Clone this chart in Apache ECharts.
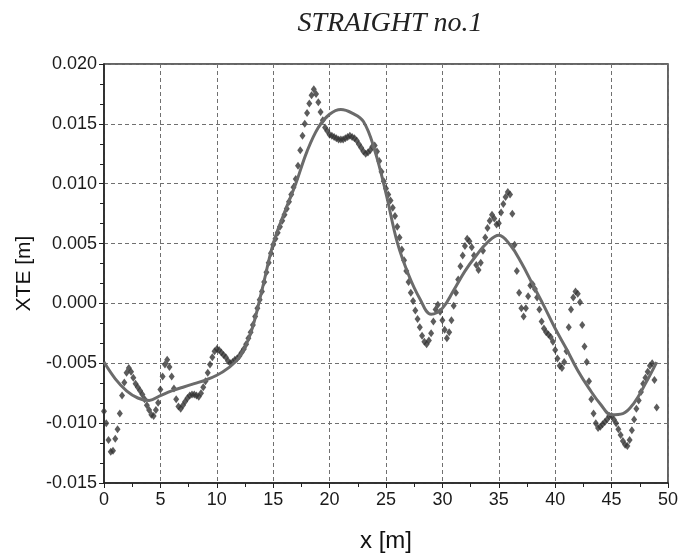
<!DOCTYPE html>
<html>
<head>
<meta charset="utf-8">
<script src="https://cdn.jsdelivr.net/npm/echarts@6/dist/echarts.min.js"></script>
<style>
html,body{margin:0;padding:0;background:#fff;overflow:hidden;width:681px;height:558px;}
#chart{width:681px;height:558px;position:absolute;left:0;top:0;}
</style>
</head>
<body>
<div id="chart"></div>
<script>
// ---- data ----
const chartTitle = 'STRAIGHT no.1';
const xName = 'x [m]';
const yName = 'XTE [m]';
const xTicks = [0, 5, 10, 15, 20, 25, 30, 35, 40, 45, 50];
const yTicks = [-0.015, -0.010, -0.005, 0.000, 0.005, 0.010, 0.015, 0.020];

// measured XTE (diamond markers), sampled every 0.2 m starting at x = 0
const measuredStart = 0;
const measuredStep = 0.2;
const measuredXTE = [
  -0.0090,-0.0100,-0.0114,-0.0124,-0.0123,-0.0113,-0.0105,-0.0092,-0.0077,-0.0066,
  -0.0058,-0.0054,-0.0057,-0.0062,-0.0067,-0.0070,-0.0073,-0.0076,-0.0080,-0.0085,
  -0.0089,-0.0093,-0.0094,-0.0089,-0.0083,-0.0072,-0.0061,-0.0051,-0.0047,-0.0053,
  -0.0061,-0.0071,-0.0080,-0.0086,-0.0088,-0.0085,-0.0082,-0.0079,-0.0077,-0.0076,
  -0.0076,-0.0077,-0.0078,-0.0075,-0.0070,-0.0065,-0.0058,-0.0051,-0.0045,-0.0040,
  -0.0038,-0.0039,-0.0041,-0.0043,-0.0045,-0.0048,-0.0050,-0.0049,-0.0047,-0.0046,
  -0.0044,-0.0041,-0.0038,-0.0034,-0.0029,-0.0024,-0.0018,-0.0011,-0.0004,0.0003,
  0.0010,0.0018,0.0026,0.0034,0.0042,0.0049,0.0054,0.0059,0.0064,0.0069,
  0.0074,0.0079,0.0085,0.0091,0.0097,0.0104,0.0115,0.0128,0.0140,0.0150,
  0.0159,0.0167,0.0174,0.0179,0.0175,0.0168,0.0160,0.0153,0.0147,0.0144,
  0.0141,0.0140,0.0139,0.0138,0.0137,0.0137,0.0137,0.0138,0.0139,0.0140,
  0.0139,0.0138,0.0136,0.0133,0.0130,0.0127,0.0125,0.0126,0.0128,0.0131,
  0.0132,0.0127,0.0119,0.0110,0.0102,0.0096,0.0091,0.0086,0.0080,0.0073,
  0.0064,0.0055,0.0045,0.0036,0.0027,0.0018,0.0009,0.0002,-0.0006,-0.0013,
  -0.0020,-0.0027,-0.0032,-0.0034,-0.0031,-0.0025,-0.0015,-0.0005,-0.0001,-0.0007,
  -0.0014,-0.0022,-0.0029,-0.0024,-0.0014,-0.0002,0.0009,0.0020,0.0031,0.0040,
  0.0048,0.0054,0.0052,0.0047,0.0040,0.0032,0.0028,0.0034,0.0044,0.0055,
  0.0063,0.0069,0.0074,0.0071,0.0066,0.0067,0.0076,0.0083,0.0089,0.0093,
  0.0091,0.0075,0.0049,0.0027,0.0009,-0.0004,-0.0011,-0.0004,0.0006,0.0015,
  0.0016,0.0012,0.0005,-0.0005,-0.0015,-0.0021,-0.0024,-0.0026,-0.0028,-0.0032,
  -0.0039,-0.0046,-0.0052,-0.0054,-0.0049,-0.0040,-0.0020,-0.0005,0.0005,0.0010,
  0.0008,0.0001,-0.0018,-0.0036,-0.0049,-0.0065,-0.0080,-0.0092,-0.0100,-0.0104,
  -0.0103,-0.0101,-0.0099,-0.0097,-0.0094,-0.0094,-0.0097,-0.0100,-0.0105,-0.0110,
  -0.0115,-0.0118,-0.0119,-0.0114,-0.0106,-0.0097,-0.0088,-0.0081,-0.0074,-0.0067,
  -0.0062,-0.0057,-0.0052,-0.0050,-0.0064,-0.0087
];

// smooth (fitted) XTE, one value per metre starting at x = 0
const fittedStart = 0;
const fittedStep = 1;
const fittedXTE = [
  -0.0049,-0.0063,-0.0073,-0.0079,-0.0081,-0.0077,-0.0073,-0.0070,-0.0067,-0.0064,
  -0.0060,-0.0054,-0.0045,-0.0025,0.0011,0.0050,0.0076,0.0100,0.0127,0.0147,
  0.0158,0.0162,0.0159,0.0152,0.0128,0.0092,0.0051,0.0024,0.0004,-0.0009,
  -0.0004,0.0011,0.0027,0.0040,0.0051,0.0057,0.0049,0.0034,0.0016,-0.0002,
  -0.0021,-0.0038,-0.0056,-0.0071,-0.0084,-0.0093,-0.0092,-0.0083,-0.0067,-0.0049
];

// ---- build chart ----
const measuredPts = measuredXTE.map((v, i) => [measuredStart + i * measuredStep, v]);
const fittedPts = fittedXTE.map((v, i) => [fittedStart + i * fittedStep, v]);

const sans = "'Liberation Sans', Arial, sans-serif";
const gridDash = { type: [4, 3], color: '#707070', width: 1 };

const chart = echarts.init(document.getElementById('chart'), null, { renderer: 'canvas', width: 681, height: 558 });
chart.setOption({
  animation: false,
  backgroundColor: '#ffffff',
  title: {
    text: chartTitle,
    left: 385,
    top: 5,
    textAlign: 'center',
    textStyle: {
      fontFamily: "'Liberation Serif', 'Times New Roman', serif",
      fontStyle: 'italic',
      fontWeight: 'normal',
      fontSize: 28,
      color: '#222'
    }
  },
  grid: {
    left: 104, right: 8, top: 64, bottom: 68,
    show: true, borderColor: '#333', borderWidth: 1.5, backgroundColor: 'transparent'
  },
  xAxis: {
    type: 'value',
    min: xTicks[0], max: xTicks[xTicks.length - 1], interval: xTicks[1] - xTicks[0],
    name: xName, nameLocation: 'middle', nameGap: 46,
    nameTextStyle: { fontFamily: sans, fontSize: 24, color: '#111' },
    axisLine: { show: true, onZero: false, lineStyle: { color: '#222', width: 1.5 } },
    axisTick: { show: true, length: 5, lineStyle: { color: '#222', width: 1 } },
    minorTick: { show: true, splitNumber: 2, length: 4, lineStyle: { color: '#222', width: 1 } },
    splitLine: { show: true, lineStyle: gridDash },
    axisLabel: { fontFamily: sans, fontSize: 18, color: '#1a1a1a', margin: 8 }
  },
  yAxis: {
    type: 'value',
    min: yTicks[0], max: yTicks[yTicks.length - 1], interval: 0.005,
    name: yName, nameLocation: 'middle', nameGap: 66, nameRotate: 90,
    nameTextStyle: { fontFamily: sans, fontSize: 21, color: '#111' },
    axisLine: { show: true, onZero: false, lineStyle: { color: '#222', width: 1.5 } },
    axisTick: { show: true, length: 5, lineStyle: { color: '#222', width: 1 } },
    minorTick: { show: true, splitNumber: 3, length: 4, lineStyle: { color: '#222', width: 1 } },
    splitLine: { show: true, lineStyle: gridDash },
    axisLabel: {
      fontFamily: sans, fontSize: 18, color: '#1a1a1a', margin: 7,
      formatter: v => (Math.abs(v) < 1e-9 ? 0 : v).toFixed(3)
    }
  },
  series: [
    {
      name: 'measured',
      type: 'scatter',
      data: measuredPts,
      symbol: 'diamond',
      symbolSize: [6, 8],
      itemStyle: { color: '#333' },
      z: 2
    },
    {
      name: 'fitted',
      type: 'line',
      data: fittedPts,
      smooth: 0.4,
      showSymbol: false,
      lineStyle: { color: '#6b6b6b', width: 3 },
      z: 3
    }
  ]
});
</script>
</body>
</html>
